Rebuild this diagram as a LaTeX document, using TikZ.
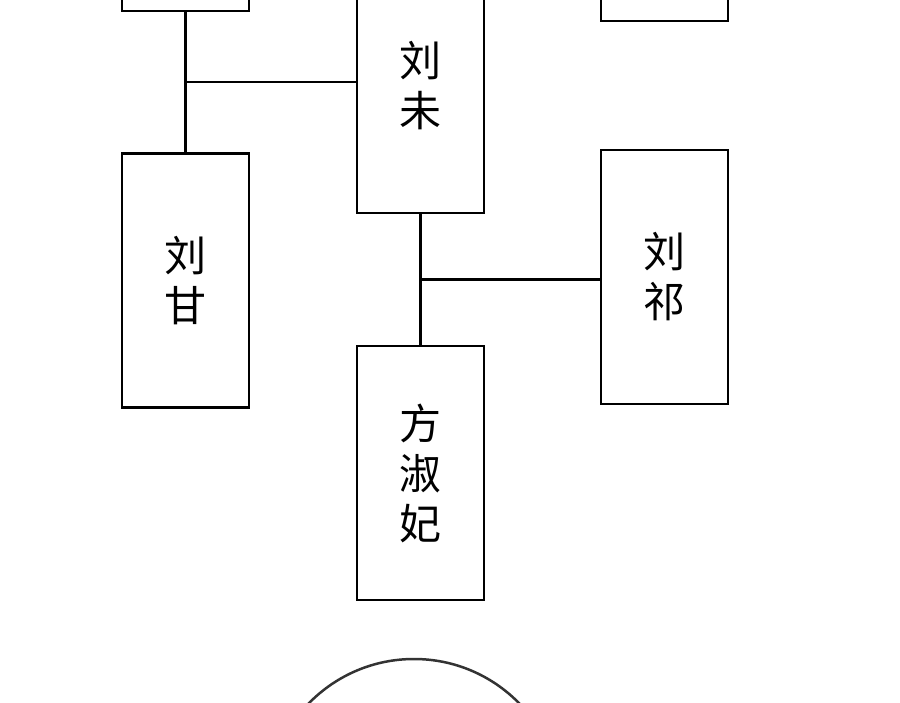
\documentclass[tikz,border=0pt]{standalone}
\usepackage{fontspec}
\newfontfamily\cjk{Noto Sans CJK SC}
\begin{document}
\begin{tikzpicture}[x=1pt,y=-1pt,
    person/.style ={draw, line width=2.5pt, minimum width=127pt, minimum height=254pt,
      inner sep=0pt, align=center, font=\cjk\fontsize{42}{50}\selectfont},
    link/.style ={line width=2.5pt}]
   \clip (0,0) rectangle (900,703);
   \node[person] (topL) at (185.5,-116) {};
   \node[person] (topR) at (664.5,-106) {};
   \node[person] (wei) at (420.5,86) {刘\\未};
   \node[person] (gan) at (185.5,280.5) {刘\\甘};
   \node[person] (qi) at (664.5,277) {刘\\祁};
   \node[person] (fang) at (420.5,473) {方\\淑\\妃};

   \draw[link] (topL.south) -- (gan.north) coordinate[pos=0.5] (j1);
   \draw[link] (j1) -- (j1 -| wei.west);
   \draw[link] (wei.south) -- (fang.north) coordinate[pos=0.5] (j2);
   \draw[link] (j2) -- (j2 -| qi.west);

   \draw[line width=2.5pt, draw=black!80] (414,806) circle (147);
\end{tikzpicture}
\end{document}
